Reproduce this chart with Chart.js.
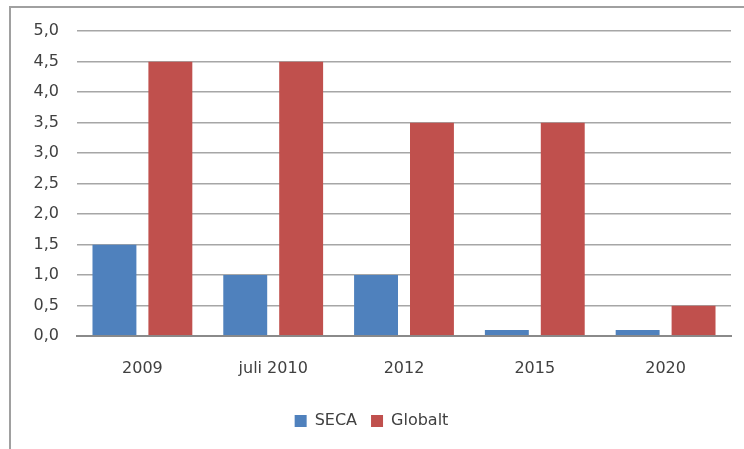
<!DOCTYPE html>
<html>
<head>
<meta charset="utf-8">
<script src="https://cdn.jsdelivr.net/npm/chart.js@4"></script>
<style>
  html, body { margin: 0; padding: 0; background: #fff; }
  #wrap { position: relative; width: 744px; height: 449px; }
</style>
</head>
<body>
<div id="wrap"><canvas id="chart" width="744" height="449"></canvas></div>
<script>
// Data
const categories = ['2009', 'juli 2010', '2012', '2015', '2020'];
const secaValues = [1.5, 1.0, 1.0, 0.1, 0.1];
const globaltValues = [4.5, 4.5, 3.5, 3.5, 0.5];
const seriesNames = ['SECA', 'Globalt'];

// thin frame at the left and top, like the pasted Excel chart
const framePlugin = {
    id: 'frame',
    beforeDraw(chart) {
        const c = chart.ctx;
        c.save();
        c.strokeStyle = '#a0a0a0';
        c.lineWidth = 2;
        c.beginPath();
        c.moveTo(10, 449);
        c.lineTo(10, 7);
        c.lineTo(744, 7);
        c.stroke();
        c.restore();
    }
};

const textColor = '#404040';
const font = { family: 'DejaVu Sans', size: 16 };

const ctx = document.getElementById('chart').getContext('2d');
const chart = new Chart(ctx, {
    type: 'bar',
    data: {
        labels: categories,
        datasets: [
            {
                label: seriesNames[0],
                data: secaValues,
                backgroundColor: '#4F81BD',
                borderColor: 'rgba(0,0,0,0)',
                borderWidth: { left: 6, right: 6, top: 0, bottom: 0 }
            },
            {
                label: seriesNames[1],
                data: globaltValues,
                backgroundColor: '#C0504D',
                borderColor: 'rgba(0,0,0,0)',
                borderWidth: { left: 6, right: 6, top: 0, bottom: 0 }
            }
        ]
    },
    options: {
        responsive: false,
        animation: false,
        layout: { padding: { left: 12, right: 13, top: 31, bottom: 10 } },
        datasets: { bar: { categoryPercentage: 0.855, barPercentage: 1, inflateAmount: 0 } },
        plugins: {
            tooltip: { enabled: false },
            legend: {
                position: 'bottom',
                labels: {
                    font: font,
                    color: textColor,
                    boxWidth: 12,
                    boxHeight: 12,
                    padding: 14
                }
            }
        },
        scales: {
            x: {
                grid: { display: false, drawTicks: false },
                border: { color: '#8a8a8a', width: 2 },
                ticks: { font: font, color: textColor, padding: 23 },
                afterFit(scale) { scale.height = 63; }
            },
            y: {
                min: 0,
                max: 5,
                ticks: {
                    stepSize: 0.5,
                    font: font,
                    color: textColor,
                    padding: 18,
                    callback: v => v.toFixed(1).replace('.', ',')
                },
                grid: {
                    drawTicks: false,
                    color: '#a6a6a6',
                    lineWidth: 1.5
                },
                border: { display: false },
                afterFit(scale) { scale.width = 65; }
            }
        }
    },
    plugins: [framePlugin]
});
</script>
</body>
</html>
